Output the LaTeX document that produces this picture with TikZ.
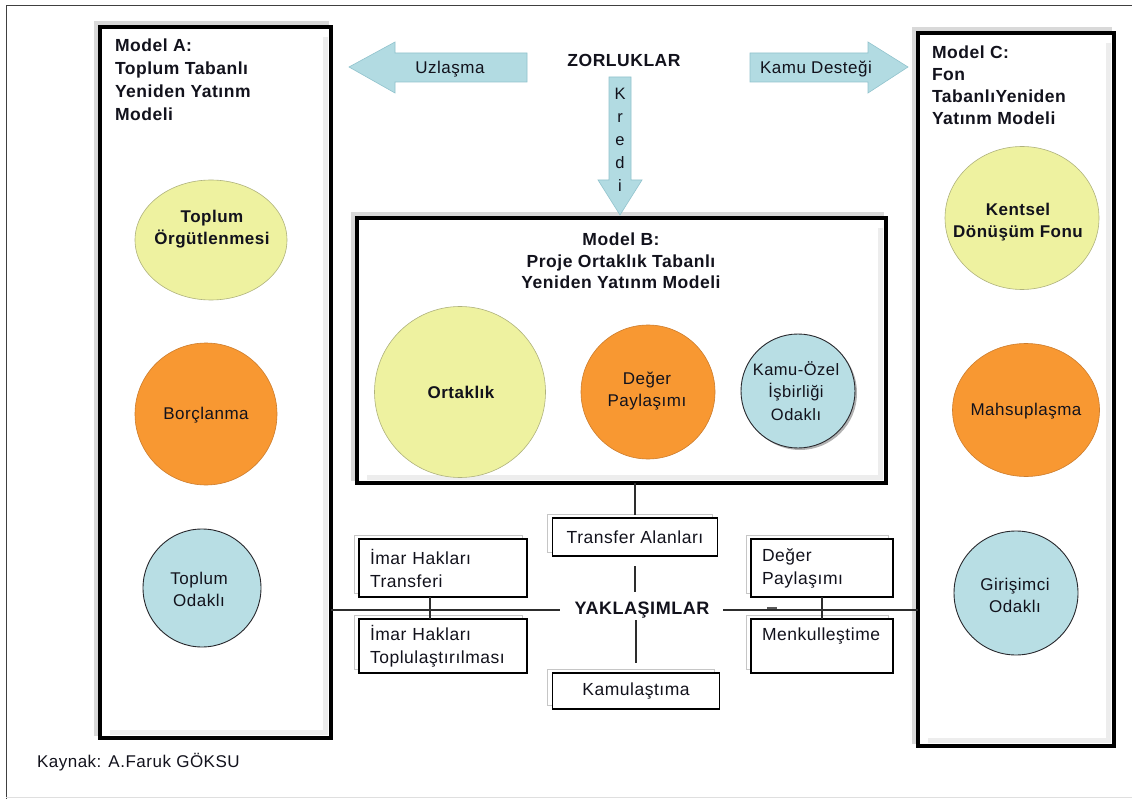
\documentclass[tikz,border=0pt]{standalone}
\usepackage{fontspec}
\setmainfont{Liberation Sans}[LetterSpace=3]
\usetikzlibrary{shapes.geometric,shadows,calc}
\definecolor{cyel}{RGB}{238,242,160}
\definecolor{cyelD}{RGB}{175,178,125}
\definecolor{corg}{RGB}{248,152,50}
\definecolor{corgD}{RGB}{205,125,45}
\definecolor{cblu}{RGB}{184,222,228}
\definecolor{cbluD}{RGB}{40,40,45}
\definecolor{carr}{RGB}{178,219,226}
\definecolor{carrD}{RGB}{145,195,205}
\definecolor{ctxt}{RGB}{18,18,28}
\definecolor{cline}{RGB}{45,45,45}
\begin{document}
\begin{tikzpicture}[x=1pt,y=-1pt,
  every node/.style={text=ctxt, inner sep=0pt, outer sep=0pt},
  reg/.style={font=\fontsize{17}{22}\selectfont, align=center},
  bld/.style={font=\bfseries\fontsize{17}{22}\selectfont, align=center},
  modelbox/.style={draw=black, line width=4.5pt, fill=white,
    general shadow={shadow xshift=-4pt, shadow yshift=4pt, draw=gray!30, line width=4pt}},
  smallbox/.style={draw=black, line width=1.1pt, fill=white,
    general shadow={shadow xshift=-5pt, shadow yshift=4pt, draw=gray!45, fill=white, line width=1pt},
    font=\fontsize{17.5}{23}\selectfont, inner xsep=11pt},
  conn/.style={draw=cline, line width=1.2pt},
  arrowshape/.style={fill=carr, draw=carrD, line width=0.6pt},
  yelc/.style={fill=cyel, draw=cyelD, line width=0.6pt},
  orgc/.style={fill=corg, draw=corgD, line width=0.6pt},
  bluc/.style={fill=cblu, draw=cbluD, line width=0.9pt}
]
\useasboundingbox (0,0) rectangle (1132,799);
\fill[white] (0,0) rectangle (1132,799);
% outer frame
\draw[gray!50!black, line width=1pt] (6,799) -- (6,5.5) -- (1132,5.5);
\draw[gray!25, line width=1pt] (6,797) -- (1132,797);

% model boxes
\node[modelbox, minimum width=231pt, minimum height=711pt] (A) at (215.5,382.5) {};
\node[modelbox, minimum width=529pt, minimum height=265pt] (B) at (621.5,350.5) {};
\node[modelbox, minimum width=196pt, minimum height=713pt] (C) at (1016,389.5) {};
\foreach \bx in {A,B,C}{
  \draw[gray!14, line width=5pt] ($(\bx.north east)+(-6,10)$) -- ($(\bx.south east)+(-6,-6)$) -- ($(\bx.south west)+(10,-6)$);
}

% titles
\node[bld, align=left, anchor=north west, font=\bfseries\fontsize{17.5}{23}\selectfont] (Atitle) at (115,39) {Model A:\\Toplum Tabanlı\\Yeniden Yatınm\\Modeli};
\node[bld, align=left, anchor=north west, font=\bfseries\fontsize{17.5}{22}\selectfont] (Ctitle) at (932,46) {Model C:\\Fon\\TabanlıYeniden\\Yatınm Modeli};
\node[bld, anchor=north, font=\bfseries\fontsize{17.5}{21.5}\selectfont] (Btitle) at (621,233) {Model B:\\Proje Ortaklık Tabanlı\\Yeniden Yatınm Modeli};

% Model A circles
\node[ellipse, yelc, minimum width=152pt, minimum height=120pt] (a1) at (211,240) {};
\node[bld] (a1t) at (212,229) {Toplum\\Örgütlenmesi};
\node[circle, orgc, minimum size=142pt] (a2) at (206,414) {};
\node[reg] (a2t) at (206,415) {Borçlanma};
\node[circle, bluc, minimum size=118pt] (a3) at (202,588) {};
\node[reg] (a3t) at (199,589) {Toplum\\Odaklı};

% Model B circles
\node[circle, yelc, minimum size=171pt] (b1) at (460,392) {};
\node[bld] (b1t) at (461,392) {Ortaklık};
\node[circle, orgc, minimum size=134pt] (b2) at (648,392) {};
\node[reg] (b2t) at (647,391) {Değer\\Paylaşımı};
\node[circle, bluc, minimum size=114pt, drop shadow={shadow xshift=2pt, shadow yshift=-2pt, opacity=0.6}] (b3) at (798,391) {};
\node[reg, font=\fontsize{16.5}{22.5}\selectfont] (b3t) at (796,391) {Kamu-Özel\\İşbirliği\\Odaklı};

% Model C circles
\node[ellipse, yelc, minimum width=154pt, minimum height=143pt] (c1) at (1022,218) {};
\node[bld] (c1t) at (1018,222) {Kentsel\\Dönüşüm Fonu};
\node[ellipse, orgc, minimum width=147pt, minimum height=133pt] (c2) at (1026,410) {};
\node[reg] (c2t) at (1026,411) {Mahsuplaşma};
\node[circle, bluc, minimum size=124pt] (c3) at (1016,593) {};
\node[reg] (c3t) at (1015,595) {Girişimci\\Odaklı};

% top arrows
\draw[arrowshape] (349,67) -- (395,42) -- (395,53) -- (527,53) -- (527,82) -- (395,82) -- (395,93) -- cycle;
\node[reg] (uz) at (450,69) {Uzlaşma};
\draw[arrowshape] (750,53) -- (868,53) -- (868,42) -- (908,67) -- (868,93) -- (868,82) -- (750,82) -- cycle;
\node[reg] (kd) at (816,69) {Kamu Desteği};
\draw[arrowshape] (609,77) -- (631,77) -- (631,180) -- (642,180) -- (620,215) -- (598,180) -- (609,180) -- cycle;
\node[reg, font=\fontsize{16.5}{23}\selectfont] (kr) at (620,140) {K\\r\\e\\d\\i};
\node[bld, font=\bfseries\fontsize{17.5}{22}\selectfont] (zor) at (624,60) {ZORLUKLAR};

% approaches
\node[bld, font=\bfseries\fontsize{18}{22}\selectfont] (yak) at (642,610) {YAKLAŞIMLAR};
\node[smallbox, align=center, minimum width=165pt, minimum height=38pt] (trans) at (635,537) {Transfer Alanları};
\node[smallbox, align=center, minimum width=167pt, minimum height=36pt] (kam) at (636,691) {Kamulaştıma};
\node[smallbox, align=left, text width=146pt, minimum height=58pt] (imar1) at (443,568) {İmar Hakları\\Transferi};
\node[smallbox, align=left, text width=146pt, minimum height=54pt] (imar2) at (443,646) {İmar Hakları\\Toplulaştırılması};
\node[smallbox, align=left, text width=120pt, minimum height=58pt] (deger) at (822,568) {Değer\\Paylaşımı};
\node[smallbox, align=left, text width=120pt, minimum height=54pt] (menk) at (822,646) {Menkulleştime\\\mbox{}};

% connectors
\draw[conn] (A.east |- yak.west) -- ([xshift=-15pt]yak.west);
\draw[conn] ([xshift=14pt]yak.east) -- (C.west |- yak.east);
\draw[conn] (trans.north |- B.south) -- ([yshift=3pt]trans.north);
\draw[conn] ([yshift=-10pt]trans.south) -- ([yshift=10pt]trans.south |- yak.north);
\draw[conn] (kam.north |- yak.south) ++(0,2) -- ([yshift=10pt]kam.north);
\draw[conn] ([xshift=-13pt]imar1.south) -- ([xshift=-13pt]imar1.south |- imar2.north);
\draw[conn] (deger.south) -- (menk.north);
\draw[gray!70!black, line width=2.5pt] (767,608) -- (777,608);

% source
\node[reg, anchor=west] (src) at (37,762) {Kaynak: A.Faruk GÖKSU};
\end{tikzpicture}
\end{document}
